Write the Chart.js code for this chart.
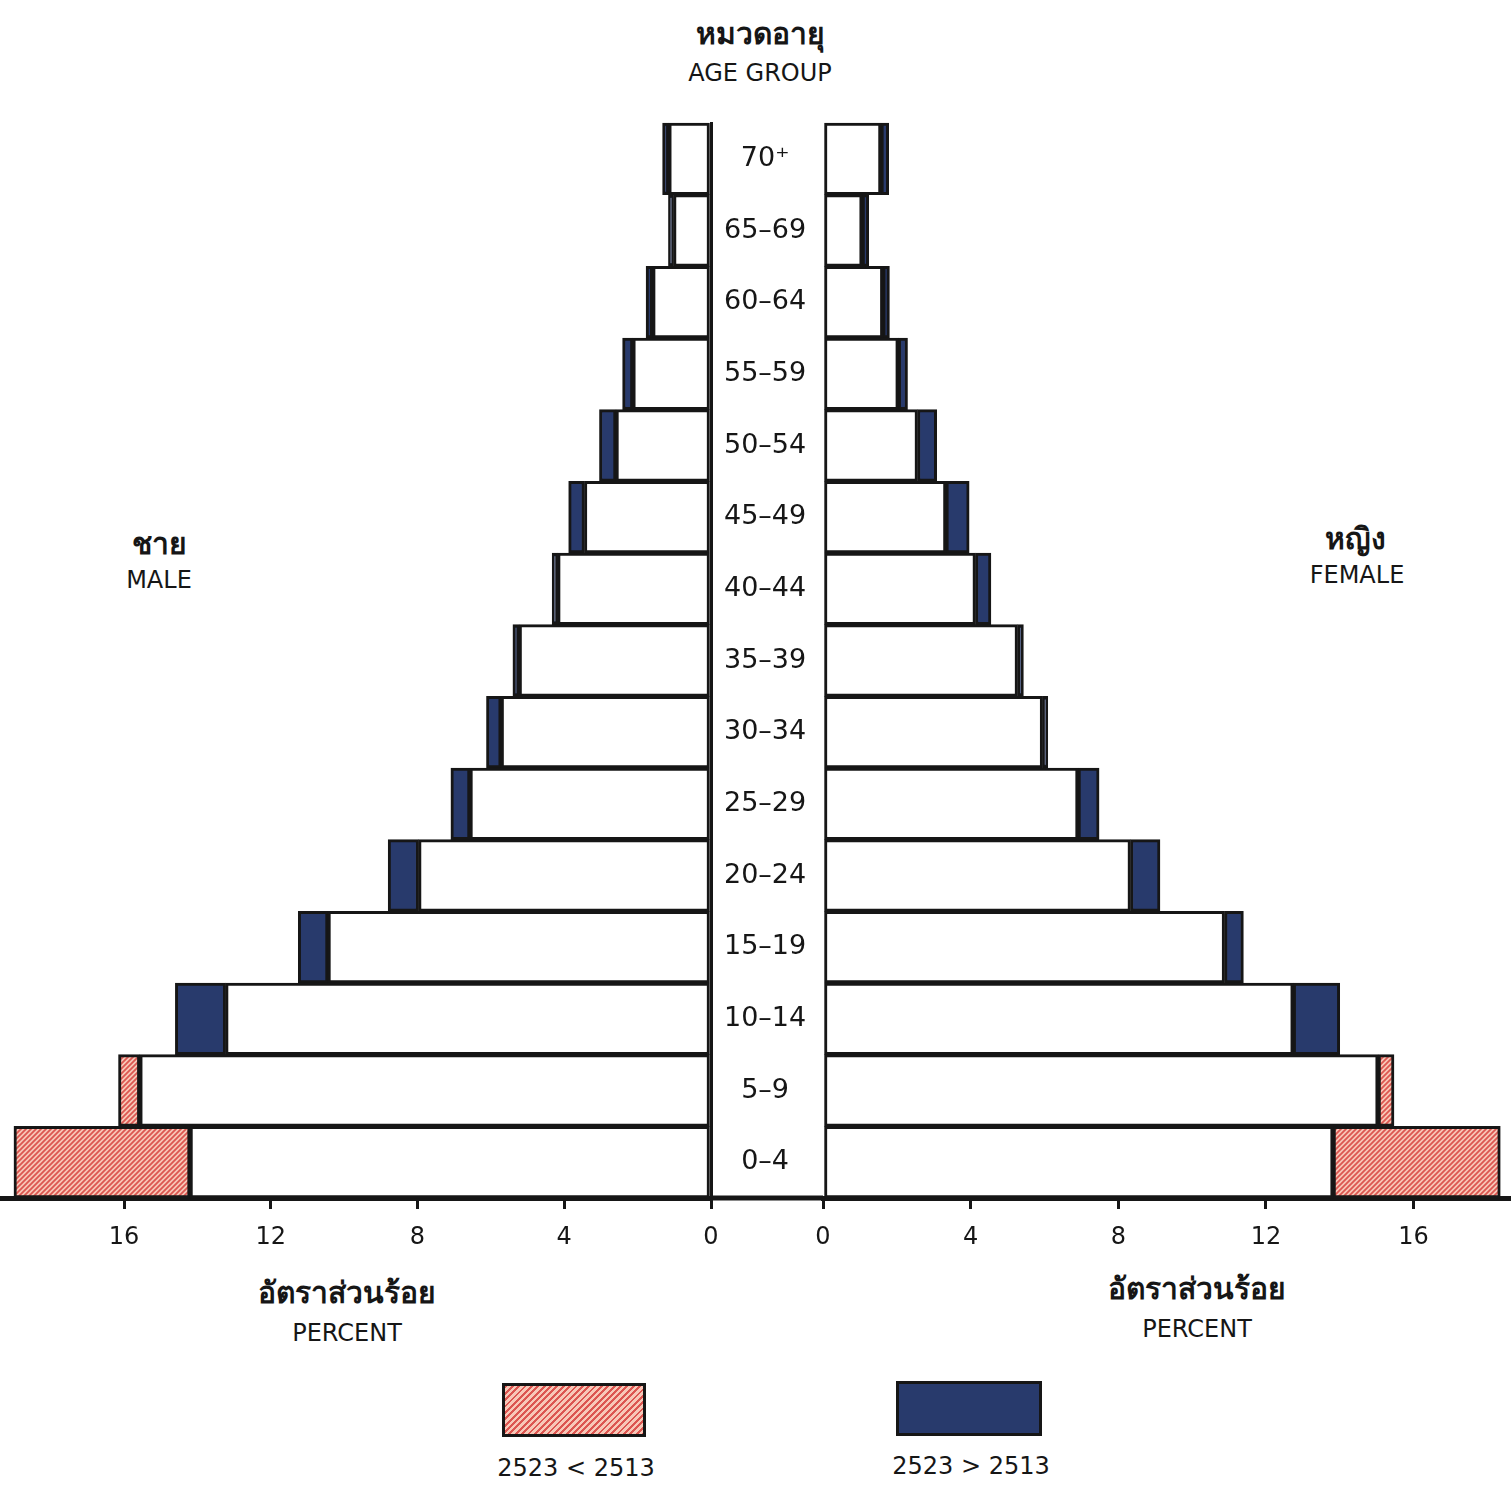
<!DOCTYPE html>
<html>
<head>
<meta charset="utf-8">
<title>Population pyramid 2513 / 2523</title>
<script src="https://cdn.jsdelivr.net/npm/chart.js@4.4.1/dist/chart.umd.min.js"></script>
<style>
    body { margin: 0; background: #ffffff; color: #161616; font-family: "DejaVu Sans", "Noto Sans", sans-serif; }
    #page { position: relative; width: 1511px; height: 1495px; overflow: hidden; }
    .box { position: absolute; }
    .txt { position: absolute; transform: translate(-50%, -50%); white-space: nowrap; text-align: center; }
    .th { font-size: 30px; font-weight: bold; }
    .en { font-size: 24px; }
    .key { position: absolute; box-sizing: border-box; border: 3px solid #161616; }
</style>
</head>
<body>
<div id="page">
    <div class="txt th" style="left:760px; top:33px;">หมวดอายุ</div>
    <div class="txt en" style="left:760px; top:73px;">AGE GROUP</div>

    <div class="txt th" style="left:159px; top:543px;">ชาย</div>
    <div class="txt en" style="left:159px; top:580px;">MALE</div>
    <div class="txt th" style="left:1355px; top:538px;">หญิง</div>
    <div class="txt en" style="left:1357px; top:575px;">FEMALE</div>

    <div class="box" style="left:0; top:100px; width:823px; height:1160px;"><canvas id="maleChart"></canvas></div>
    <div class="box" style="left:800px; top:100px; width:711px; height:1160px;"><canvas id="femaleChart"></canvas></div>

    <div class="txt th" style="left:347px; top:1292px;">อัตราส่วนร้อย</div>
    <div class="txt en" style="left:347px; top:1333px;">PERCENT</div>
    <div class="txt th" style="left:1197px; top:1288px;">อัตราส่วนร้อย</div>
    <div class="txt en" style="left:1197px; top:1329px;">PERCENT</div>

    <div class="key" style="left:502px; top:1383px; width:144px; height:54px; background:repeating-linear-gradient(135deg, #dc5651 0 2px, #f8c8b8 2px 4.5px);"></div>
    <div class="txt en" style="left:576px; top:1468px;">2523 &lt; 2513</div>
    <div class="key" style="left:896px; top:1381px; width:146px; height:55px; background:#283a6c;"></div>
    <div class="txt en" style="left:971px; top:1466px;">2523 &gt; 2513</div>
</div>

<script>
// age groups, top of the pyramid first
const ageGroups = ['70⁺', '65–69', '60–64', '55–59', '50–54', '45–49', '40–44', '35–39',
    '30–34', '25–29', '20–24', '15–19', '10–14', '5–9', '0–4'];

// percent of males / females in each age group, census 2513 and 2523
const male2513   = [1.15, 1.02, 1.59, 2.13, 2.59, 3.45, 4.18, 5.23, 5.72, 6.57, 7.97, 10.44, 13.23, 16.15, 19.00];
const male2523   = [1.32, 1.16, 1.77, 2.41, 3.04, 3.88, 4.33, 5.40, 6.12, 7.09, 8.80, 11.25, 14.60, 15.57, 14.20];
const female2513 = [1.57, 1.06, 1.62, 2.04, 2.56, 3.33, 4.13, 5.27, 5.95, 6.91, 8.33, 10.88, 12.74, 15.47, 18.35];
const female2523 = [1.78, 1.24, 1.80, 2.29, 3.08, 3.96, 4.55, 5.43, 6.09, 7.48, 9.13, 11.39, 14.00, 15.04, 13.82];

const percentTicks = [0, 4, 8, 12, 16];

const INK = '#161616';
const NAVY = '#283a6c';

// red hatching for "2523 < 2513"
function makeHatch() {
    const c = document.createElement('canvas');
    c.width = 5;
    c.height = 5;
    const g = c.getContext('2d');
    g.fillStyle = '#f8c8b8';
    g.fillRect(0, 0, 5, 5);
    g.strokeStyle = '#dc5651';
    g.lineWidth = 1.8;
    g.beginPath();
    g.moveTo(-1, 6); g.lineTo(6, -1);
    g.moveTo(-3.5, 3.5); g.lineTo(3.5, -3.5);
    g.moveTo(1.5, 8.5); g.lineTo(8.5, 1.5);
    g.stroke();
    return g.createPattern(c, 'repeat');
}
const hatch = makeHatch();

function pyramidData(old, now) {
    const shared = {
        borderColor: INK,
        borderWidth: 3,
        borderSkipped: false,
        barPercentage: 1,
        categoryPercentage: 1,
        grouped: false,
        clip: false
    };
    return {
        labels: ageGroups,
        datasets: [
            Object.assign({
                label: 'common',
                data: old.map((v, i) => [0, Math.min(v, now[i])]),
                backgroundColor: '#ffffff'
            }, shared),
            Object.assign({
                label: 'change',
                data: old.map((v, i) => [Math.min(v, now[i]), Math.max(v, now[i])]),
                backgroundColor: old.map((v, i) => now[i] > v ? NAVY : hatch)
            }, shared)
        ]
    };
}

function percentAxis(max, reverse) {
    return {
        type: 'linear',
        min: 0,
        max: max,
        reverse: reverse,
        afterBuildTicks: scale => { scale.ticks = percentTicks.map(v => ({ value: v })); },
        afterFit: scale => {
            scale.height = 62;
            scale.paddingLeft = 0;
            scale.paddingRight = 0;
        },
        grid: { drawOnChartArea: false, drawTicks: true, tickLength: 11, lineWidth: 3, color: INK },
        border: { display: true, width: 5, color: INK },
        ticks: { color: INK, padding: 14, font: { size: 24, family: '"DejaVu Sans", sans-serif' } }
    };
}

// carry the bottom axis line across the age-label gap
const joinAxis = {
    id: 'joinAxis',
    afterDraw(chart) {
        const x = chart.scales.x;
        const ctx = chart.ctx;
        ctx.save();
        ctx.strokeStyle = INK;
        ctx.lineWidth = 5;
        ctx.beginPath();
        ctx.moveTo(chart.chartArea.right, x.top);
        ctx.lineTo(chart.width, x.top);
        ctx.stroke();
        ctx.restore();
    }
};

const baseOptions = {
    indexAxis: 'y',
    responsive: true,
    maintainAspectRatio: false,
    animation: false,
    plugins: { legend: { display: false }, tooltip: { enabled: false } }
};

new Chart(document.getElementById('maleChart'), {
    type: 'bar',
    data: pyramidData(male2513, male2523),
    plugins: [joinAxis],
    options: Object.assign({}, baseOptions, {
        layout: { padding: { top: 23, left: 0, right: 0, bottom: 0 } },
        scales: {
            x: percentAxis(19.38, true),
            y: {
                position: 'right',
                afterFit: scale => {
                    scale.width = 112;
                    scale.paddingTop = 0;
                    scale.paddingBottom = 0;
                },
                grid: { display: false, drawTicks: false },
                border: { display: true, width: 3, color: INK },
                ticks: {
                    color: INK,
                    crossAlign: 'center',
                    padding: 13,
                    font: { size: 27, family: '"DejaVu Sans", sans-serif' }
                }
            }
        }
    })
});

new Chart(document.getElementById('femaleChart'), {
    type: 'bar',
    data: pyramidData(female2513, female2523),
    options: Object.assign({}, baseOptions, {
        layout: { padding: { top: 23, left: 23, right: 0, bottom: 0 } },
        scales: {
            x: percentAxis(18.64, false),
            y: { display: false }
        }
    })
});
</script>
</body>
</html>
